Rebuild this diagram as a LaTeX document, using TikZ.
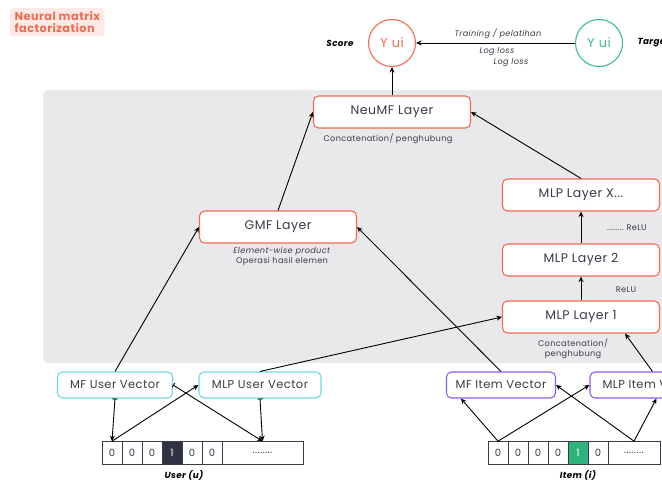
\documentclass[tikz,border=0pt]{standalone}
\usepackage{fontspec}
\setmainfont{Poppins}[LetterSpace=4]
\usetikzlibrary{arrows.meta,positioning}
\definecolor{coral}{HTML}{F26B50}
\definecolor{titlebg}{HTML}{FDEAE6}
\definecolor{panel}{HTML}{E9E9EB}
\definecolor{cyanline}{HTML}{72D8E2}
\definecolor{purpleline}{HTML}{8E5CF0}
\definecolor{greenline}{HTML}{3CC08E}
\definecolor{hotgreen}{HTML}{2DB47C}
\definecolor{darkcell}{HTML}{2E3242}
\definecolor{ink}{HTML}{3A3B48}
\tikzset{
    layer/.style={rectangle, rounded corners=5pt, draw=coral, line width=1.1pt, fill=white,
                  minimum width=157pt, minimum height=32pt, text=ink,
                  font=\fontsize{12.5}{14}\selectfont},
    uservec/.style={rectangle, rounded corners=5pt, draw=cyanline, line width=1.1pt, fill=white,
                  minimum height=26pt, text=ink, font=\fontsize{11.5}{13}\selectfont},
    itemvec/.style={uservec, draw=purpleline},
    yui/.style={circle, draw=#1, text=#1, line width=1.1pt, minimum size=47pt,
                font=\fontsize{13}{15}\selectfont},
    cell/.style={rectangle, draw=ink, line width=0.6pt, minimum width=20pt, minimum height=23pt,
                 text=ink, font=\fontsize{10}{12}\selectfont},
    note/.style={text=ink, font=\fontsize{8.2}{10}\selectfont, align=center, inner sep=1pt},
    tag/.style={text=black, font=\fontsize{8.8}{10}\selectfont\bfseries\itshape}
}

\begin{document}
\begin{tikzpicture}
  [
    x                 = 1pt,
    y                 = -1pt,
    conn/.style       = {-{Stealth[length=5.5pt,width=5pt]}, line width=0.9pt, black},
    barconn/.style    = {{Bar[width=5pt]}-{Stealth[length=5.5pt,width=5pt]}, line width=0.9pt, black},
  ]
  \clip (0,0) rectangle (662,481);
  \fill[white] (0,0) rectangle (662,481);
  % background panel
  \fill[panel, rounded corners=6pt] (43,90) rectangle (700,363);

  \node[anchor=north west, fill=titlebg, rounded corners=3pt, text=coral, align=left,
        inner xsep=4.5pt, inner ysep=3.5pt, font=\fontsize{11.3}{12}\selectfont\bfseries] (title) at (10,8)
        {Neural matrix\\factorization};

  % output
  \node[yui=coral] (score) at (392,43) {Y ui};
  \node[yui=greenline] (target) at (599,43) {Y ui};
  \node[tag, anchor=east] (scorelbl) at (357,43) {Score};
  \node[tag, anchor=west] (targetlbl) at (634,43) {Target};
  \node[note, font=\fontsize{8.2}{10}\selectfont\itshape] (train) at (498,34) {Training / pelatihan};
  \node[note, font=\fontsize{8.2}{10}\selectfont\itshape] (loss1) at (497,52) {Log loss};
  \node[note, font=\fontsize{8.2}{10}\selectfont\itshape] (loss2) at (511,63) {Log loss};

  % layers
  \node[layer] (neumf) at (392,112) {NeuMF Layer};
  \node[note, below=4pt of neumf, xshift=-4pt] (concat) {Concatenation/ penghubung};
  \node[layer] (gmf) at (278,227) {GMF Layer};
  \node[note, below=3pt of gmf, xshift=4pt] (elem)
        {\textit{Element-wise product}\\Operasi hasil elemen};
  \node[layer] (mlpx) at (581,195) {MLP Layer X...};
  \node[layer] (mlptwo) at (581,260) {MLP Layer 2};
  \node[layer] (mlpone) at (581,317) {MLP Layer 1};
  \node[note] (relux) at (627,228) {........ ReLU};
  \node[note] (reluone) at (626,290) {ReLU};
  \node[note, below=4pt of mlpone, xshift=-8pt] (concattwo) {Concatenation/\\penghubung};

  % embeddings
  \node[uservec, minimum width=115pt] (mfuser) at (115,385) {MF User Vector};
  \node[uservec, minimum width=122pt] (mlpuser) at (260,385) {MLP User Vector};
  \node[itemvec, minimum width=109pt] (mfitem) at (501,385) {MF Item Vector};
  \node[itemvec, minimum width=122pt] (mlpitem) at (651,385) {MLP Item Vector};

  % one-hot inputs
  \foreach \v [count=\i from 0] in {0,0,0,1,0,0}
    \node[cell] (u\i) at (112+20*\i,453) {\v};
  \node[cell, fill=darkcell, text=white] at (u3) {1};
  \node[cell, minimum width=81pt] (u6) at (262.5,453) {........};
  \node[tag, below=2pt of u3, xshift=12pt] (userlbl) {User (u)};

  \foreach \v [count=\i from 0] in {0,0,0,0,1,0}
    \node[cell] (i\i) at (498+20*\i,453) {\v};
  \node[cell, fill=hotgreen, text=white] at (i4) {1};
  \node[cell, minimum width=52pt] (i6) at (634,453) {........};
  \node[tag, below=2pt of i4] (itemlbl) {Item (i)};

  % connectors
  \draw[conn] (target) -- (score);
  \draw[conn] (neumf) -- (score);
  \draw[conn] (gmf.north) -- (neumf.west);
  \draw[conn] (mlpx.north) -- (neumf.east);
  \draw[conn] (mlpone) -- (mlptwo);
  \draw[conn] (mlptwo) -- (mlpx);
  \draw[conn] (mfuser.north) -- (gmf.west);
  \draw[conn] (mfitem.north) -- (gmf.east);
  \draw[conn] (mlpuser.north) -- (mlpone.west);
  \draw[conn] ([xshift=63pt]mlpitem.north west) -- ([xshift=-35pt]mlpone.south east);

  \draw[barconn] (mfuser.south) -- (u0.north);
  \draw[conn] (u0.north) -- (mlpuser.west);
  \draw[barconn] (mfuser.east) -- (u6.north);
  \draw[barconn] (mlpuser.south) -- (u6.north);

  \draw[conn] (i0.north) -- ([xshift=15pt]mfitem.south west);
  \draw[conn] (i0.north) -- (mlpitem.west);
  \draw[conn] (i6.north) -- (mfitem.east);
  \draw[conn] (i6.north) -- ([xshift=67pt]mlpitem.south west);
\end{tikzpicture}
\end{document}
